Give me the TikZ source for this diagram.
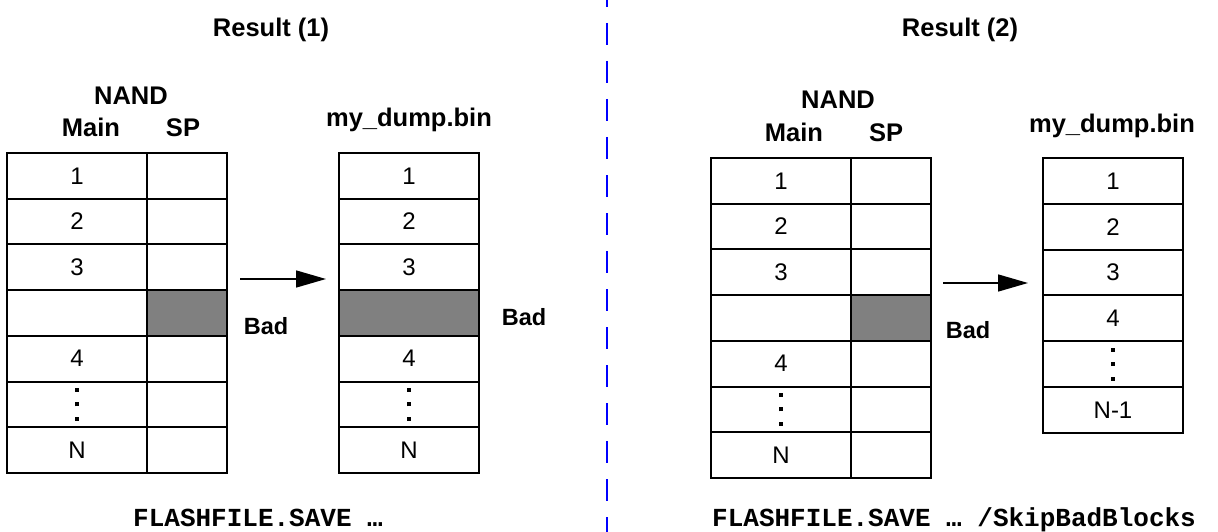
\documentclass[tikz,border=0pt]{standalone}
\usepackage{fontspec}
\setmainfont{Liberation Sans}
\setmonofont{Liberation Mono}
\usetikzlibrary{arrows.meta,positioning}

\newcommand{\dotcol}{\vbox{\offinterlineskip\hbox{\rule{3.2pt}{4pt}}\vskip 10.5pt\hbox{\rule{3.2pt}{4pt}}\vskip 10.5pt\hbox{\rule{3.2pt}{4pt}}}}

\tikzset{
  cell/.style={draw, line width=2pt, rectangle, minimum height=45.7pt, inner sep=0pt, outer sep=0pt, font=\fontsize{24}{28}\selectfont},
  maincell/.style={cell, minimum width=140pt},
  spcell/.style={cell, minimum width=80pt},
  lbl/.style={font=\fontsize{25.5}{30}\selectfont\bfseries, inner sep=0pt, anchor=base},
  badlbl/.style={lbl, font=\fontsize{23.5}{28}\selectfont\bfseries},
  cmd/.style={font=\fontsize{26}{30}\selectfont\ttfamily\bfseries, inner sep=0pt, anchor=base west},
  flow/.style={line width=1.5pt, -{Triangle[length=30pt,width=17pt]}},
  divider/.style={blue, line width=2pt, dash pattern=on 22pt off 16pt, dash phase=15pt}
}

\begin{document}
\begin{tikzpicture}[x=1pt,y=-1pt]
  \useasboundingbox (0,0) rectangle (1218,532);

  % Result (1)
  \node[lbl] (res1) at (271,37) {Result (1)};
  \node[lbl] (nand1) at (131,105) {NAND};
  \node[lbl] (main1) at (91,137) {Main};
  \node[lbl] (sp1) at (183,137) {SP};
  \node[lbl] (dump1) at (409,127) {my\_dump.bin};
  \foreach \t/\c [count=\i] in {1/white,2/white,3/white,{}/gray,4/white,\dotcol/white,N/white} {
    \node[maincell] (m1-\i) at (77,{153+45.7*(\i-0.5)}) {\t};
    \node[spcell, fill=\c, right=0pt of m1-\i] (s1-\i) {};
    \node[maincell, fill=\c] (d1-\i) at (409,{153+45.7*(\i-0.5)}) {\t};
  }
  \coordinate (a1s) at (240,279);
  \coordinate (a1e) at (326,279);
  \draw[flow] (a1s) -- (a1e);
  \node[badlbl] (bad1) at (266,334) {Bad};
  \node[badlbl] (bad1b) at (524,325) {Bad};
  \node[cmd] (cmd1) at (133,526) {FLASHFILE.SAVE …};

  \coordinate (divtop) at (607,0);
  \coordinate (divbot) at (607,532);
  \draw[divider] (divtop) -- (divbot);

  % Result (2)
  \node[lbl] (res2) at (960,37) {Result (2)};
  \node[lbl] (nand2) at (838,109) {NAND};
  \node[lbl] (main2) at (794,142) {Main};
  \node[lbl] (sp2) at (886,142) {SP};
  \node[lbl] (dump2) at (1112,133) {my\_dump.bin};
  \foreach \t/\c [count=\i] in {1/white,2/white,3/white,{}/gray,4/white,\dotcol/white,N/white} {
    \node[maincell] (m2-\i) at (781,{158+45.7*(\i-0.5)}) {\t};
    \node[spcell, fill=\c, right=0pt of m2-\i] (s2-\i) {};
  }
  \foreach \t [count=\i] in {1,2,3,4,\dotcol,N-1} {
    \node[maincell] (d2-\i) at (1113,{158+45.8*(\i-0.5)}) {\t};
  }
  \coordinate (a2s) at (943,283);
  \coordinate (a2e) at (1028,283);
  \draw[flow] (a2s) -- (a2e);
  \node[badlbl] (bad2) at (968,338) {Bad};
  \node[cmd] (cmd2) at (712,526) {FLASHFILE.SAVE … /SkipBadBlocks};
\end{tikzpicture}
\end{document}
